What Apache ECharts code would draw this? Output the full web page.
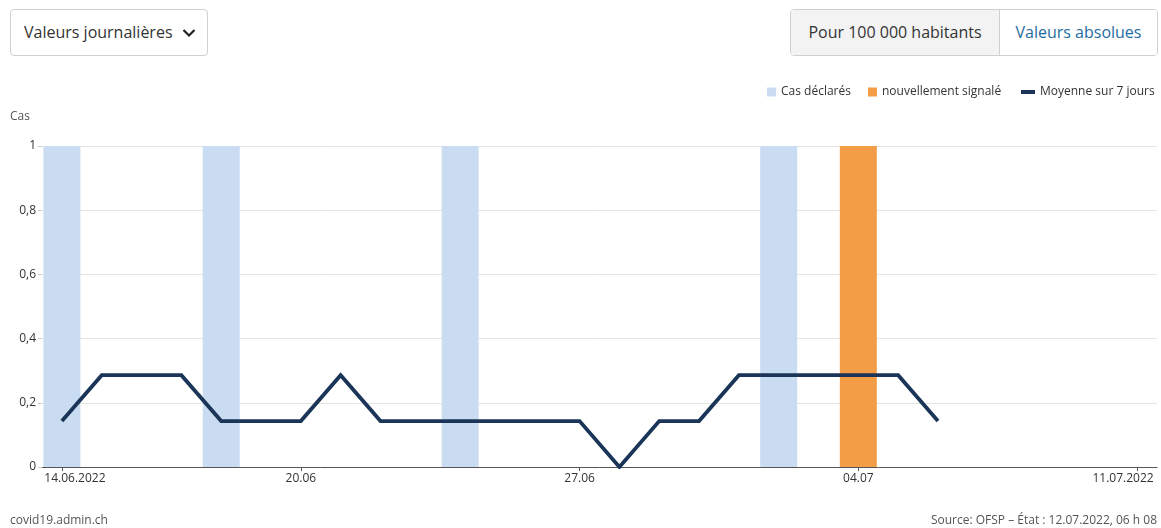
<!DOCTYPE html>
<html>
<head>
<meta charset="utf-8">
<script src="https://cdn.jsdelivr.net/npm/echarts@6/dist/echarts.min.js"></script>
<style>
  html, body { margin: 0; padding: 0; background: #fff; width: 1161px; height: 528px; overflow: hidden; font-family: "Open Sans", "Noto Sans", sans-serif; }
  #chart { position: absolute; left: 0; top: 0; width: 1161px; height: 528px; }
  .dropdown { position: absolute; left: 10px; top: 9px; width: 198px; height: 47px; border: 1px solid #d0d0d0; border-radius: 4px; box-sizing: border-box; color: #333; font-size: 16px; line-height: 45px; padding-left: 13px; background: #fff; z-index: 2; }
  .dropdown svg { position: absolute; right: 11px; top: 18px; }
  .toggle { position: absolute; left: 790px; top: 9px; width: 368px; height: 47px; border: 1px solid #d0d0d0; border-radius: 4px; box-sizing: border-box; display: flex; overflow: hidden; font-size: 16px; z-index: 2; }
  .toggle .a { width: 208px; background: #f3f3f3; color: #333; border-right: 1px solid #d0d0d0; text-align: center; line-height: 45px; }
  .toggle .b { flex: 1; color: #1e6c9f; text-align: center; line-height: 45px; background: #fff; }
</style>
</head>
<body>
<div id="chart"></div>
<div class="dropdown">Valeurs journalières
  <svg width="14" height="10" viewBox="0 0 14 10"><path d="M1.5 2 L7 7.5 L12.5 2" fill="none" stroke="#222" stroke-width="2.2"/></svg>
</div>
<div class="toggle"><div class="a">Pour 100 000 habitants</div><div class="b">Valeurs absolues</div></div>
<script>
const categories = ['14.06.2022','15.06.2022','16.06.2022','17.06.2022','18.06.2022','19.06.2022','20.06.2022',
  '21.06.2022','22.06.2022','23.06.2022','24.06.2022','25.06.2022','26.06.2022','27.06.2022',
  '28.06.2022','29.06.2022','30.06.2022','01.07.2022','02.07.2022','03.07.2022','04.07.2022',
  '05.07.2022','06.07.2022','07.07.2022','08.07.2022','09.07.2022','10.07.2022','11.07.2022'];
const casDeclares = [1,0,0,0,1,0,0, 0,0,0,1,0,0,0, 0,0,0,0,1,0,0, 0,0,0,0,0,0,0];
const nouvellementSignale = [0,0,0,0,0,0,0, 0,0,0,0,0,0,0, 0,0,0,0,0,0,1, 0,0,0,0,0,0,0];
const moyenne7j = [0.143,0.286,0.286,0.286,0.143,0.143,0.143,
  0.286,0.143,0.143,0.143,0.143,0.143,0.143,
  0,0.143,0.143,0.286,0.286,0.286,0.286,
  0.286,0.143,null,null,null,null,null];
const tickLabels = {0:'14.06.2022', 6:'20.06', 13:'27.06', 20:'04.07', 27:'11.07.2022'};

const chart = echarts.init(document.getElementById('chart'), null, {renderer: 'canvas'});
const fontFam = '"Open Sans", "Noto Sans", sans-serif';
const legendText = {color: '#333', fontSize: 12, fontFamily: fontFam};
chart.setOption({
  animation: false,
  grid: {left: 42, right: 4, top: 146, bottom: 61, containLabel: false},
  legend: [
    {data: ['Cas déclarés'], left: 767, top: 86, itemWidth: 9, itemHeight: 9, icon: 'rect', itemGap: 0, textStyle: legendText, padding: 0},
    {data: ['nouvellement signalé'], left: 868, top: 86, itemWidth: 9, itemHeight: 9, icon: 'rect', itemGap: 0, textStyle: legendText, padding: 0},
    {data: [{name: 'Moyenne sur 7 jours', icon: 'rect'}], left: 1021, top: 86, itemWidth: 14, itemHeight: 4, itemGap: 0, textStyle: legendText, padding: 0}
  ],
  graphic: [
    {type: 'text', left: 10, top: 111, style: {text: 'Cas', fill: '#555', font: '12px ' + fontFam}},
    {type: 'text', left: 10, top: 515, style: {text: 'covid19.admin.ch', fill: '#555', font: '12px ' + fontFam}},
    {type: 'text', right: 4, top: 515, style: {text: 'Source: OFSP – État : 12.07.2022, 06 h 08', fill: '#555', font: '12px ' + fontFam}}
  ],
  xAxis: {
    type: 'category',
    data: categories,
    boundaryGap: true,
    axisLine: {show: true, lineStyle: {color: '#555', width: 1}},
    axisTick: {show: true, alignWithLabel: true, length: 4, lineStyle: {color: '#555'},
      interval: (i) => tickLabels[i] !== undefined},
    axisLabel: {
      interval: (i) => tickLabels[i] !== undefined,
      color: '#333', fontSize: 12, fontFamily: fontFam, margin: 6,
      formatter: (v, i) => {
        const t = tickLabels[i];
        if (i === 0) return '{first|' + t + '}';
        if (i === categories.length - 1) return '{last|' + t + '}';
        return t;
      },
      rich: {
        first: {padding: [0, 0, 0, 26], color: '#333', fontSize: 12, fontFamily: fontFam},
        last: {padding: [0, 28, 0, 0], color: '#333', fontSize: 12, fontFamily: fontFam}
      }
    },
    splitLine: {show: false}
  },
  yAxis: {
    type: 'value', min: 0, max: 1, interval: 0.2,
    axisLine: {show: false},
    axisTick: {show: true, length: 4, lineStyle: {color: '#ccc'}},
    axisLabel: {color: '#333', fontSize: 12, fontFamily: fontFam, margin: 6,
      formatter: (v) => String(Math.round(v * 10) / 10).replace('.', ',')},
    splitLine: {show: true, lineStyle: {color: '#e3e3e3', width: 1}}
  },
  series: [
    {name: 'Cas déclarés', type: 'bar', stack: 'c', data: casDeclares, barWidth: 37,
      itemStyle: {color: '#c9dcf1'}, z: 1},
    {name: 'nouvellement signalé', type: 'bar', stack: 'c', data: nouvellementSignale, barWidth: 37,
      itemStyle: {color: '#f49d47'}, z: 1},
    {name: 'Moyenne sur 7 jours', type: 'line', data: moyenne7j, symbol: 'none', showSymbol: false,
      connectNulls: false, lineStyle: {color: '#1b3558', width: 3.8, join: 'miter'}, itemStyle: {color: '#1b3558'}, z: 3}
  ]
});
</script>
</body>
</html>
